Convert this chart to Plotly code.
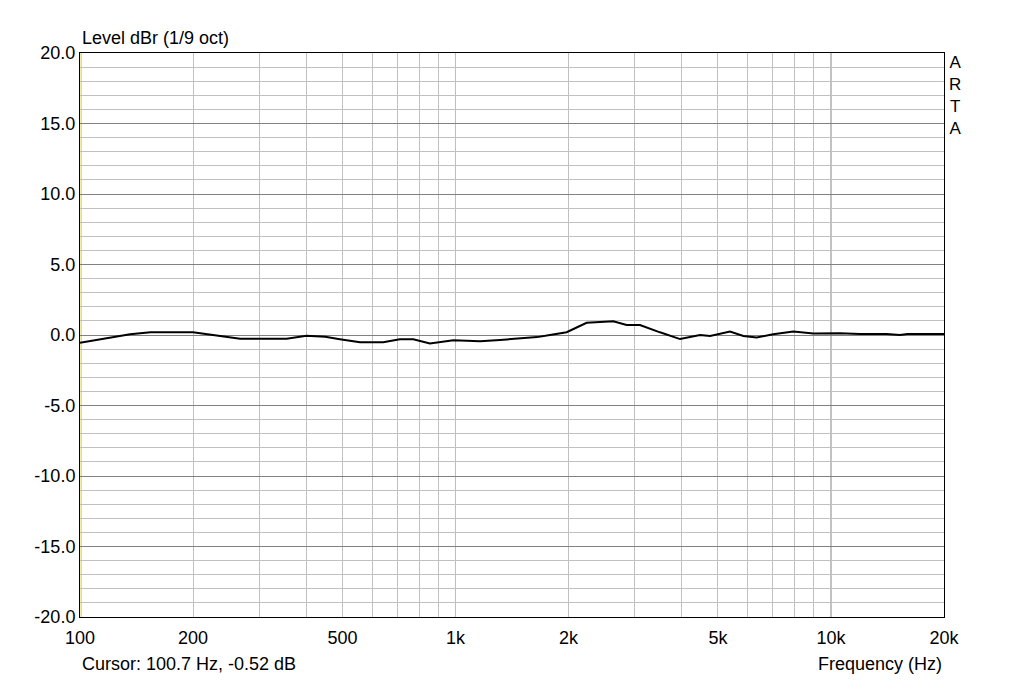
import numpy as np
import plotly.graph_objects as go

# Frequency response (Hz, dBr)
freq_hz = [100, 118, 136, 154, 175, 200, 226, 267, 310, 355, 401, 450, 492, 557, 642,
           711, 772, 855, 987, 1163, 1314, 1485, 1650, 1785, 1977, 2235, 2427, 2632,
           2856, 3100, 3505, 3964, 4480, 4765, 5384, 5844, 6340, 7017, 7940, 8978,
           10563, 11940, 14060, 15270, 15980, 20000]
level_db = [-0.55, -0.25, 0.05, 0.19, 0.2, 0.19, 0.0, -0.26, -0.27, -0.26, -0.05, -0.12,
            -0.3, -0.52, -0.52, -0.3, -0.3, -0.6, -0.38, -0.45, -0.35, -0.24, -0.15, 0.0,
            0.2, 0.87, 0.95, 0.98, 0.71, 0.71, 0.19, -0.29, 0.0, -0.07, 0.24, -0.07,
            -0.17, 0.05, 0.24, 0.1, 0.12, 0.07, 0.07, 0.0, 0.07, 0.07]

x_grid = [100, 200, 300, 400, 500, 600, 700, 800, 900, 1000, 2000, 3000, 4000, 5000,
          6000, 7000, 8000, 9000, 10000, 20000]
x_labels = {100: "100", 200: "200", 500: "500", 1000: "1k", 2000: "2k", 5000: "5k",
            10000: "10k", 20000: "20k"}
x_major = [1000, 10000]
y_major = [20, 15, 10, 5, 0, -5, -10, -15, -20]
y_labels = ["20.0", "15.0", "10.0", "5.0", "0.0", "-5.0", "-10.0", "-15.0", "-20.0"]
cursor_text = "Cursor: 100.7 Hz, -0.52 dB"
cursor_hz = 100.7

FONT = "Liberation Sans, Arial, sans-serif"
FS = 18
LIGHT = "#c0c0c0"
DARK = "#808080"

fig = go.Figure()
fig.add_trace(go.Scatter(x=freq_hz, y=level_db, mode="lines",
                         line=dict(color="black", width=2), hoverinfo="skip"))

shapes = []
for xv in x_major:
    shapes.append(dict(type="line", xref="x", yref="paper", x0=xv, x1=xv, y0=0, y1=1,
                       line=dict(color=DARK, width=1), layer="between"))
shapes.append(dict(type="line", xref="x", yref="paper", x0=cursor_hz, x1=cursor_hz,
                   y0=0, y1=1, line=dict(color="#e0d000", width=1), layer="between"))

fig.update_layout(
    width=1024, height=680,
    margin=dict(l=72, r=88, t=45, b=71),
    paper_bgcolor="white", plot_bgcolor="white",
    showlegend=False,
    font=dict(family=FONT, size=FS, color="black"),
    shapes=shapes,
    xaxis=dict(type="log", range=[2, np.log10(20000)],
               tickvals=x_grid, ticktext=[x_labels.get(v, "") for v in x_grid],
               showgrid=True, gridcolor=LIGHT, gridwidth=1, zeroline=False,
               showline=True, linecolor="black", linewidth=1, mirror=True,
               ticks="", ticklabelstandoff=4, tickfont=dict(size=FS, family=FONT)),
    yaxis=dict(range=[-20, 20], tickvals=y_major, ticktext=y_labels,
               showgrid=True, gridcolor=DARK, gridwidth=1, zeroline=False,
               minor=dict(dtick=1, showgrid=True, gridcolor=LIGHT, gridwidth=1, ticks=""),
               showline=True, linecolor="black", linewidth=1, mirror=True,
               ticks="", tickfont=dict(size=FS, family=FONT)),
    annotations=[
        dict(text="Level dBr (1/9 oct)", xref="paper", yref="paper", x=0, y=1,
             xanchor="left", yanchor="bottom", yshift=3, showarrow=False,
             font=dict(size=FS, family=FONT)),
        dict(text=cursor_text, xref="paper", yref="paper", x=0, y=0,
             xanchor="left", yanchor="middle", yshift=-47, showarrow=False,
             font=dict(size=FS, family=FONT)),
        dict(text="Frequency (Hz)", xref="paper", yref="paper", x=1, y=0,
             xanchor="right", yanchor="middle", yshift=-47, showarrow=False,
             font=dict(size=FS, family=FONT)),
        dict(text="A<br>R<br>T<br>A", xref="paper", yref="paper", x=1, y=1,
             xanchor="left", yanchor="top", xshift=3, yshift=2, showarrow=False,
             align="center", font=dict(size=17, family=FONT)),
    ],
)

fig.write_html("out.html")
